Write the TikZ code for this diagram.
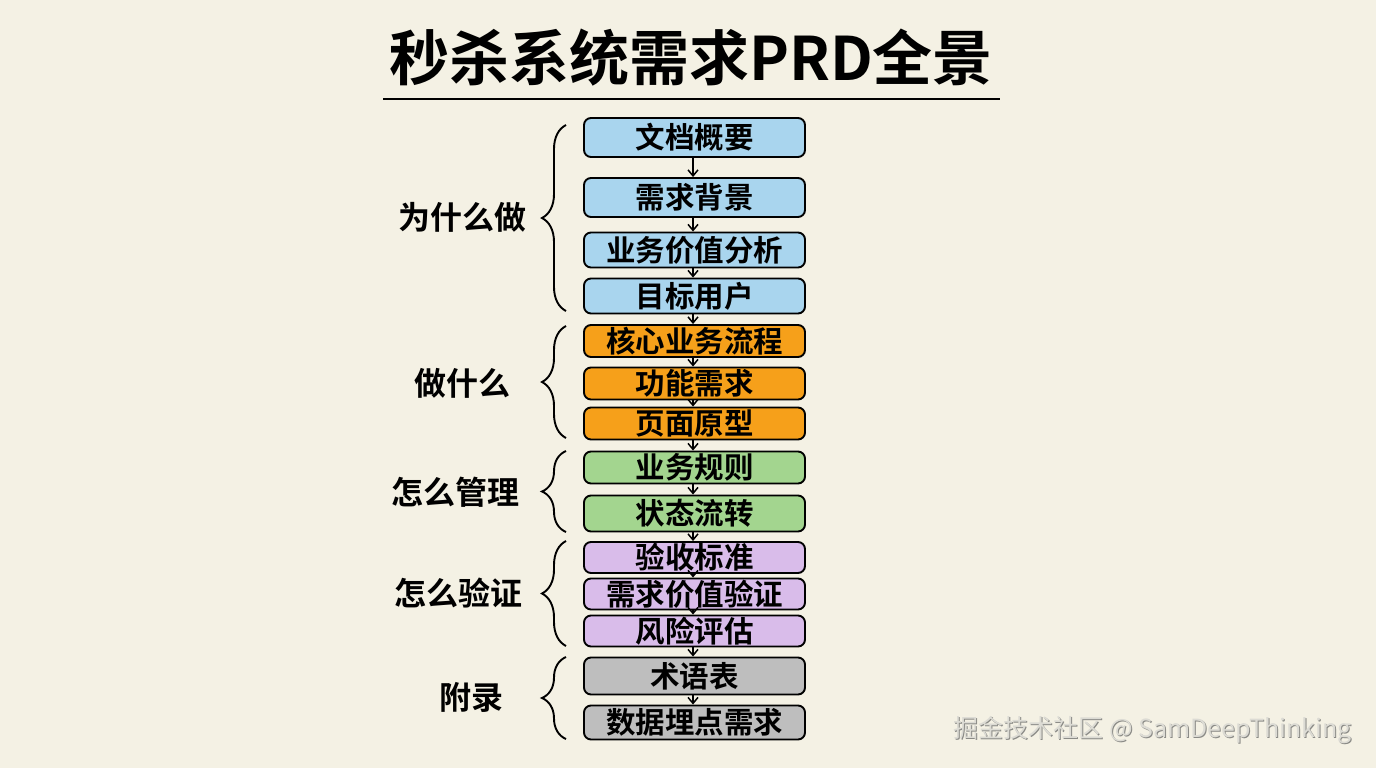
\documentclass[tikz,border=0pt]{standalone}
\usepackage{fontspec}
\setmainfont{Noto Sans CJK SC}[BoldFont=* Bold]
\usetikzlibrary{arrows.meta,decorations.pathreplacing}
\definecolor{bgc}{HTML}{F4F1E4}
\definecolor{cblue}{HTML}{A9D5EE}
\definecolor{corange}{HTML}{F6A01A}
\definecolor{cgreen}{HTML}{A3D58F}
\definecolor{cpurple}{HTML}{D9BCEA}
\definecolor{cgrey}{HTML}{BEBEBE}
\definecolor{wmdark}{HTML}{8A8A86}
\definecolor{wmlight}{HTML}{DCDBD4}
\tikzset{
  bx/.style={draw=black, line width=1.9pt, rounded corners=7pt, minimum width=221pt,
    inner sep=0pt, font=\bfseries\fontsize{29.5}{31}\selectfont},
  arr/.style={line width=1.5pt, -{Straight Barb[length=6pt,width=10pt]}},
  lbl/.style={font=\bfseries\fontsize{32}{34}\selectfont},
  brc/.style={decorate, decoration={brace, amplitude=24pt}, line width=1.9pt},
}
\begin{document}
\begin{tikzpicture}[x=1pt,y=-1pt]
\fill[bgc] (0,0) rectangle (1376,768);
\useasboundingbox (0,0) rectangle (1376,768);
% title
\node[font=\bfseries\fontsize{60}{64}\selectfont] (title) at (691,58) {秒杀系统需求PRD全景};
\draw[line width=2.4pt] (383,99) -- (1000,99);
% boxes
\node[bx, fill=cblue, minimum height=39pt] (b1) at (694.5,137.5) {文档概要};
\node[bx, fill=cblue, minimum height=39pt] (b2) at (694.5,197.5) {需求背景};
\node[bx, fill=cblue, minimum height=35pt] (b3) at (694.5,250) {业务价值分析};
\node[bx, fill=cblue, minimum height=35pt] (b4) at (694.5,296) {目标用户};
\node[bx, fill=corange, minimum height=32pt] (b5) at (694.5,341) {核心业务流程};
\node[bx, fill=corange, minimum height=32pt] (b6) at (694.5,383.5) {功能需求};
\node[bx, fill=corange, minimum height=32pt] (b7) at (694.5,423.5) {页面原型};
\node[bx, fill=cgreen, minimum height=32pt] (b8) at (694.5,467.5) {业务规则};
\node[bx, fill=cgreen, minimum height=36pt] (b9) at (694.5,513.5) {状态流转};
\node[bx, fill=cpurple, minimum height=31pt] (b10) at (694.5,557.5) {验收标准};
\node[bx, fill=cpurple, minimum height=31pt] (b11) at (694.5,594) {需求价值验证};
\node[bx, fill=cpurple, minimum height=31pt] (b12) at (694.5,631) {风险评估};
\node[bx, fill=cgrey, minimum height=37pt] (b13) at (694.5,676) {术语表};
\node[bx, fill=cgrey, minimum height=34pt] (b14) at (694.5,722.5) {数据埋点需求};
\foreach \a/\b in {b1/b2,b2/b3,b3/b4,b4/b5,b5/b6,b6/b7,b7/b8,b8/b9,b9/b10,b10/b11,b11/b12,b12/b13,b13/b14}
  \draw[arr] ([xshift=-1.5pt]\a.south) -- ([xshift=-1.5pt]\b.north);
% braces and labels
\draw[brc] (566,311) -- (566,125);
\draw[brc] (566,438) -- (566,326);
\draw[brc] (566,532) -- (566,451);
\draw[brc] (566,646) -- (566,541);
\draw[brc] (566,739) -- (566,657);
\node[lbl] (g1) at (462,217) {为什么做};
\node[lbl] (g2) at (462,383) {做什么};
\node[lbl] (g3) at (455,492) {怎么管理};
\node[lbl] (g4) at (458,593) {怎么验证};
\node[lbl] (g5) at (471,697) {附录};
% watermark
\node[text=wmdark, font=\fontsize{25}{27}\selectfont] (wm0) at (1153.5,731) {掘金技术社区 @ SamDeepThinking};
\node[text=wmlight, font=\fontsize{25}{27}\selectfont] (wm) at (1152.5,730) {掘金技术社区 @ SamDeepThinking};
\end{tikzpicture}
\end{document}
